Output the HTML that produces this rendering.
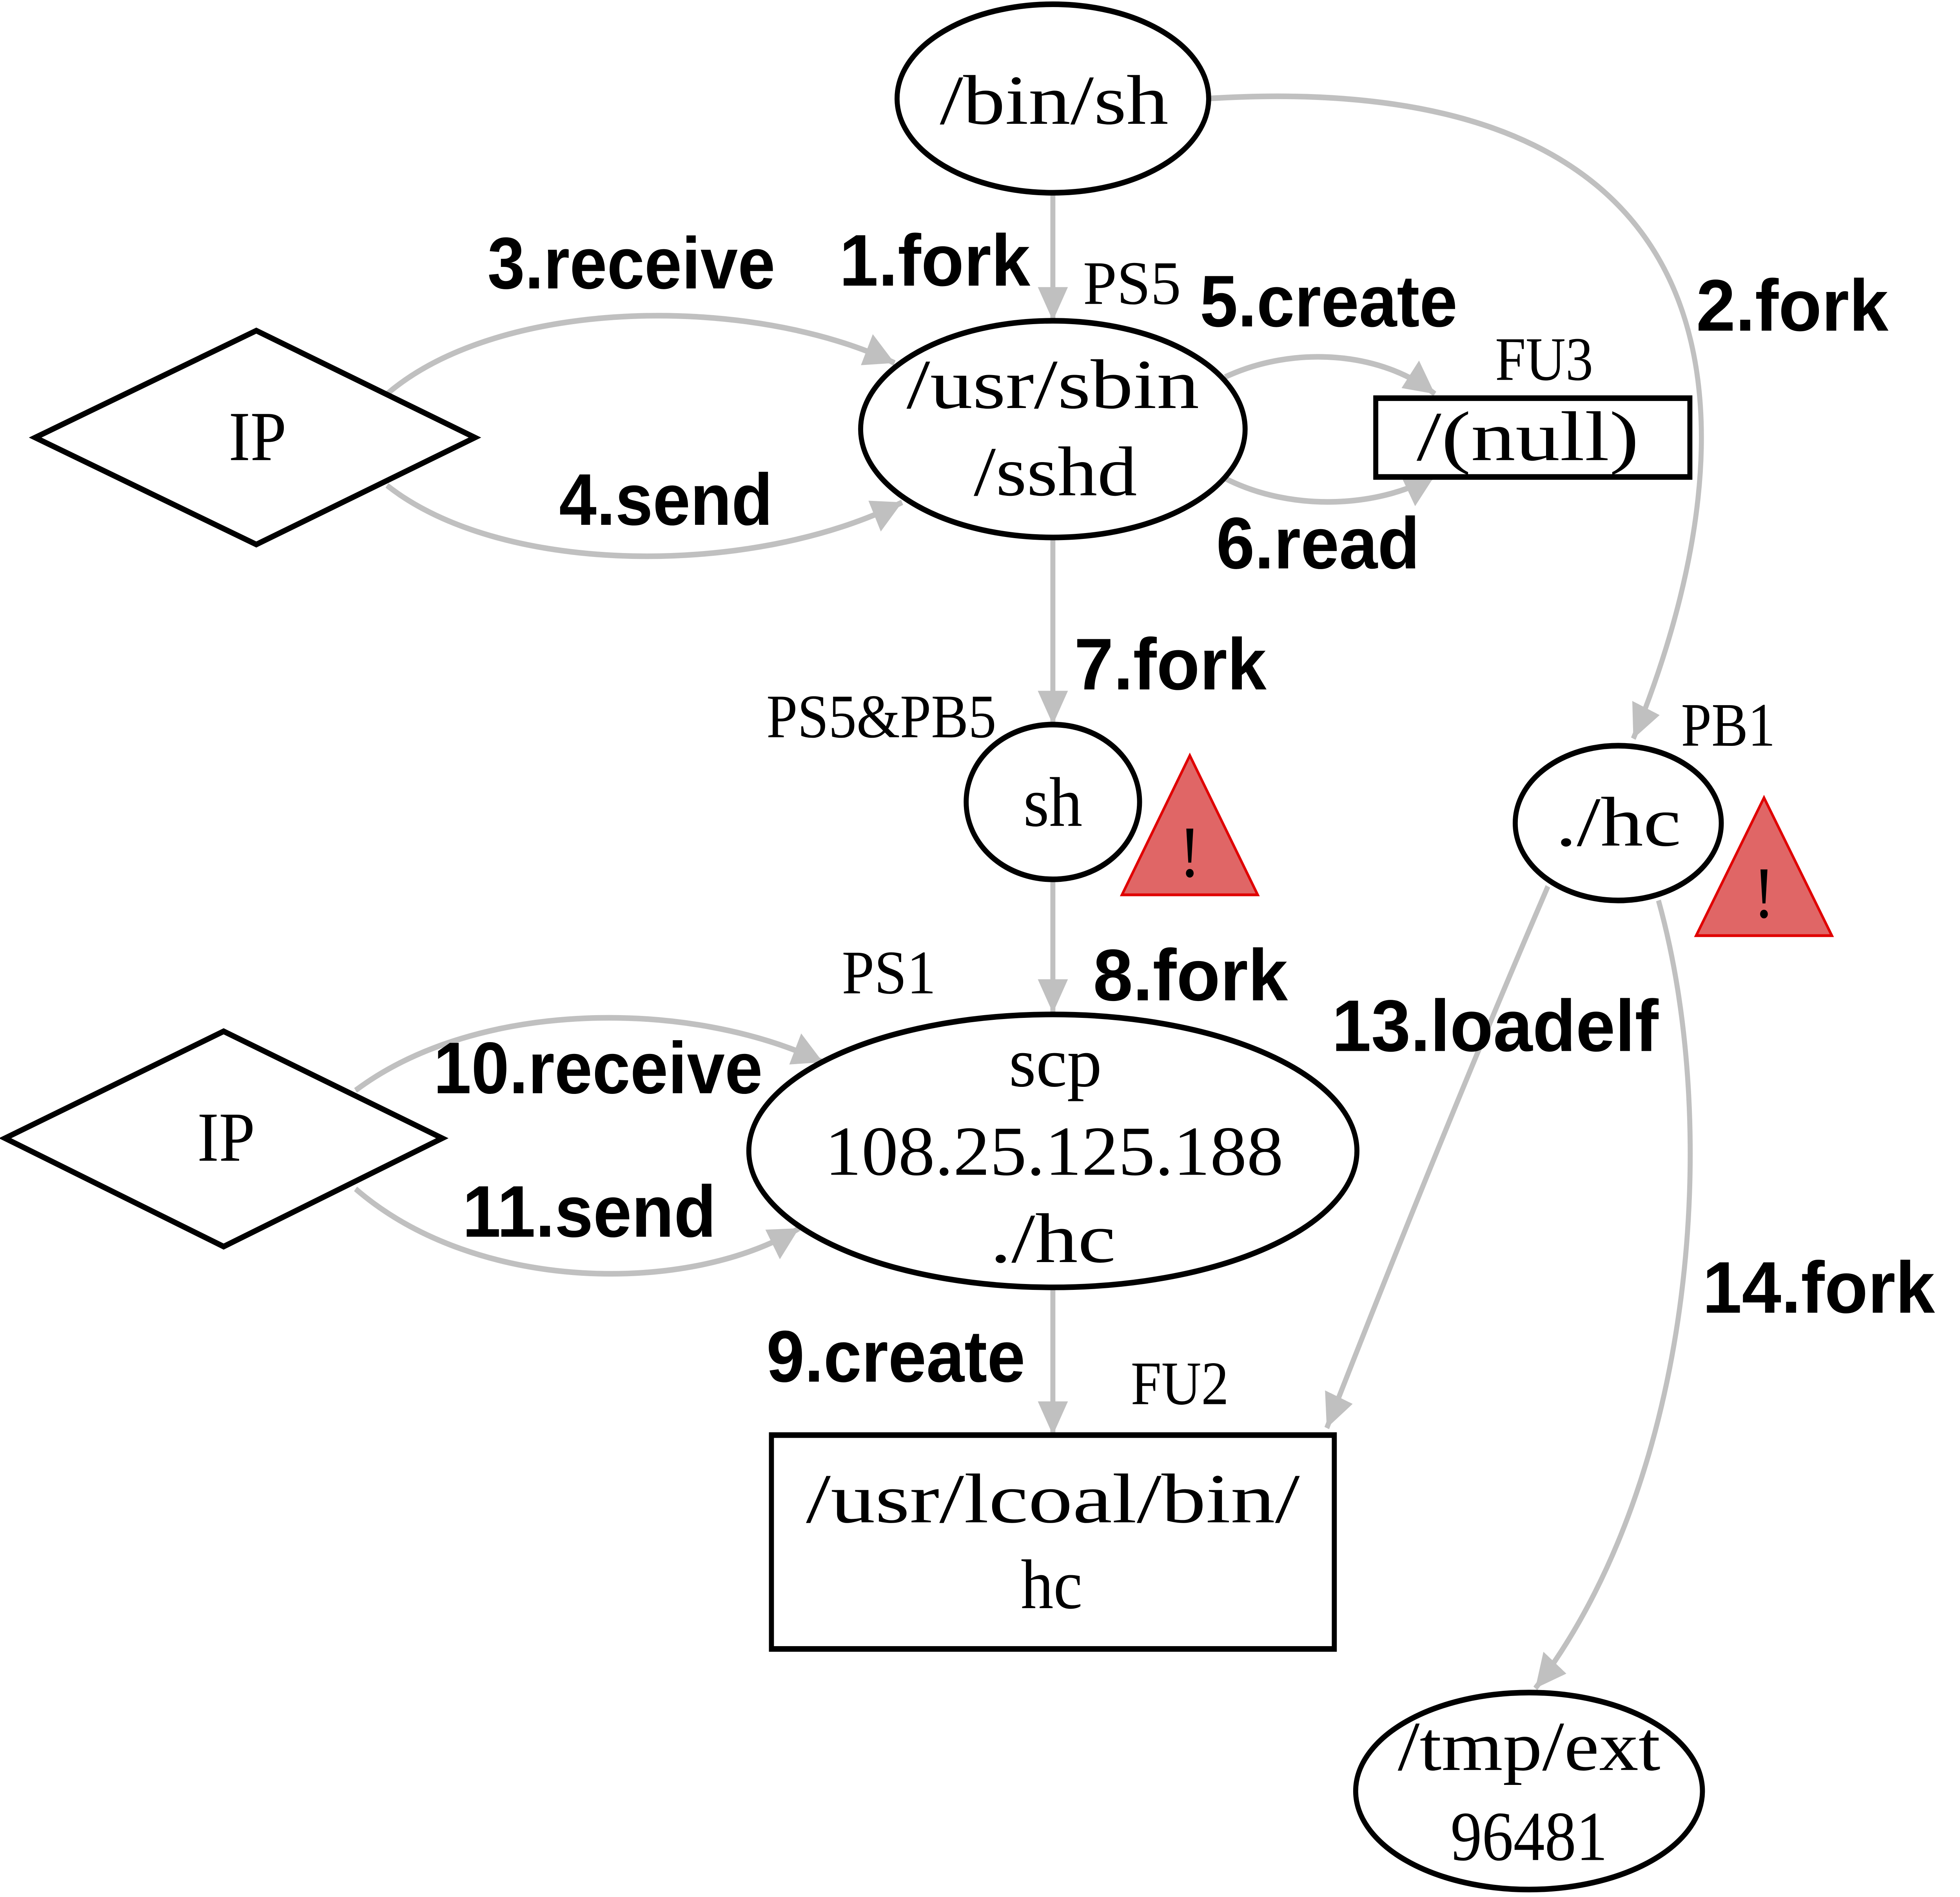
<!DOCTYPE html>
<html><head><meta charset="utf-8"><style>
html,body{margin:0;padding:0;background:#fff;width:100vw;height:100vh;overflow:hidden;}
svg{display:block;position:absolute;left:0;top:0;width:100vw;height:100vh;}
.n{fill:#fff;stroke:#000;stroke-width:4;}
.e{fill:none;stroke:#c0c0c0;stroke-width:4;}
.t{font-family:"Liberation Serif","Noto Serif CJK SC",serif;font-size:50px;fill:#000;text-anchor:middle;}
.s{font-family:"Liberation Serif","Noto Serif CJK SC",serif;font-size:44px;fill:#000;}
.b{font-family:"Liberation Sans",sans-serif;font-size:52px;font-weight:bold;fill:#000;}
</style></head><body>
<svg viewBox="0 0 1560 1348.3" preserveAspectRatio="none" xmlns="http://www.w3.org/2000/svg">
<defs>
<marker id="a" viewBox="0 0 10 10" refX="10" refY="5" markerWidth="24" markerHeight="24" orient="auto" markerUnits="userSpaceOnUse">
<path d="M0,0 L10,5 L0,10 z" fill="#c0c0c0"/>
</marker>
</defs>
<g class="e" marker-end="url(#a)">
<path d="M838,138 L838,228"/>
<path d="M962,70 C1420,45 1390,330 1300,525"/>
<path d="M308,280 C400,210 600,210 712,258"/>
<path d="M308,345 C400,410 600,410 718,357"/>
<path d="M975,268 C1030,245 1100,250 1142,280"/>
<path d="M975,340 C1030,365 1100,360 1142,338"/>
<path d="M838,382 L838,515"/>
<path d="M838,625 L838,720"/>
<path d="M838,915 L838,1020"/>
<path d="M283,775 C380,710 550,710 655,755"/>
<path d="M283,845 C380,920 550,920 636,873"/>
<path d="M1232,630 Q1150,800 1056,1015"/>
<path d="M1320,640 C1370,800 1350,1050 1222,1200"/>
</g>
<ellipse class="n" cx="838" cy="70" rx="124" ry="67"/>
<ellipse class="n" cx="838" cy="305" rx="153" ry="77"/>
<polygon class="n" points="28,311 204,235 378,311 204,387"/>
<rect class="n" x="1095" y="283" width="250" height="56"/>
<ellipse class="n" cx="838" cy="570" rx="69" ry="55"/>
<polygon points="893,636 947,537 1001,636" fill="#e06666" stroke="#e00000" stroke-width="2"/>
<ellipse class="n" cx="1288" cy="585" rx="82" ry="55"/>
<polygon points="1350,665 1404,567 1458,665" fill="#e06666" stroke="#e00000" stroke-width="2"/>
<ellipse class="n" cx="838" cy="818" rx="242" ry="97"/>
<polygon class="n" points="4,809 178,733 352,809 178,886"/>
<rect class="n" x="614" y="1020" width="448" height="152"/>
<ellipse class="n" cx="1217" cy="1273" rx="138" ry="70"/>
<g lengthAdjust="spacingAndGlyphs">
<text class="t" x="839" y="88" textLength="182" lengthAdjust="spacingAndGlyphs">/bin/sh</text>
<text class="t" x="838" y="290" textLength="233" lengthAdjust="spacingAndGlyphs">/usr/sbin</text>
<text class="t" x="840" y="352" textLength="130" lengthAdjust="spacingAndGlyphs">/sshd</text>
<text class="t" x="205" y="327" textLength="46" lengthAdjust="spacingAndGlyphs">IP</text>
<text class="t" x="1216" y="327" textLength="177" lengthAdjust="spacingAndGlyphs">/(null)</text>
<text class="t" x="838" y="587" textLength="47" lengthAdjust="spacingAndGlyphs">sh</text>
<text class="t" x="947" y="623" style="font-size:52px">!</text>
<text class="t" x="1288" y="601" textLength="100" lengthAdjust="spacingAndGlyphs">./hc</text>
<text class="t" x="1404" y="652" style="font-size:52px">!</text>
<text class="t" x="840" y="772" textLength="74" lengthAdjust="spacingAndGlyphs">scp</text>
<text class="t" x="839" y="835" textLength="365" lengthAdjust="spacingAndGlyphs">108.25.125.188</text>
<text class="t" x="838" y="897" textLength="100" lengthAdjust="spacingAndGlyphs">./hc</text>
<text class="t" x="180" y="825" textLength="46" lengthAdjust="spacingAndGlyphs">IP</text>
<text class="t" x="838" y="1082" textLength="393" lengthAdjust="spacingAndGlyphs">/usr/lcoal/bin/</text>
<text class="t" x="837" y="1143" textLength="49" lengthAdjust="spacingAndGlyphs">hc</text>
<text class="t" x="1217" y="1258" textLength="209" lengthAdjust="spacingAndGlyphs">/tmp/ext</text>
<text class="t" x="1217" y="1322" textLength="125" lengthAdjust="spacingAndGlyphs">96481</text>
</g>
<text class="s" x="862" y="216" textLength="78" lengthAdjust="spacingAndGlyphs">PS5</text>
<text class="s" x="1190" y="270" textLength="78" lengthAdjust="spacingAndGlyphs">FU3</text>
<text class="s" x="610" y="524" textLength="183" lengthAdjust="spacingAndGlyphs">PS5&amp;PB5</text>
<text class="s" x="1338" y="530" textLength="75" lengthAdjust="spacingAndGlyphs">PB1</text>
<text class="s" x="670" y="706" textLength="75" lengthAdjust="spacingAndGlyphs">PS1</text>
<text class="s" x="900" y="998" textLength="78" lengthAdjust="spacingAndGlyphs">FU2</text>
<text class="b" x="668" y="203" textLength="152" lengthAdjust="spacingAndGlyphs">1.fork</text>
<text class="b" x="1350" y="235" textLength="153" lengthAdjust="spacingAndGlyphs">2.fork</text>
<text class="b" x="388" y="205" textLength="229" lengthAdjust="spacingAndGlyphs">3.receive</text>
<text class="b" x="445" y="373" textLength="170" lengthAdjust="spacingAndGlyphs">4.send</text>
<text class="b" x="955" y="232" textLength="205" lengthAdjust="spacingAndGlyphs">5.create</text>
<text class="b" x="968" y="404" textLength="162" lengthAdjust="spacingAndGlyphs">6.read</text>
<text class="b" x="855" y="490" textLength="153" lengthAdjust="spacingAndGlyphs">7.fork</text>
<text class="b" x="870" y="711" textLength="155" lengthAdjust="spacingAndGlyphs">8.fork</text>
<text class="b" x="610" y="982" textLength="206" lengthAdjust="spacingAndGlyphs">9.create</text>
<text class="b" x="345" y="777" textLength="262" lengthAdjust="spacingAndGlyphs">10.receive</text>
<text class="b" x="368" y="879" textLength="202" lengthAdjust="spacingAndGlyphs">11.send</text>
<text class="b" x="1060" y="747" textLength="260" lengthAdjust="spacingAndGlyphs">13.loadelf</text>
<text class="b" x="1355" y="933" textLength="185" lengthAdjust="spacingAndGlyphs">14.fork</text>
</svg>
</body></html>
